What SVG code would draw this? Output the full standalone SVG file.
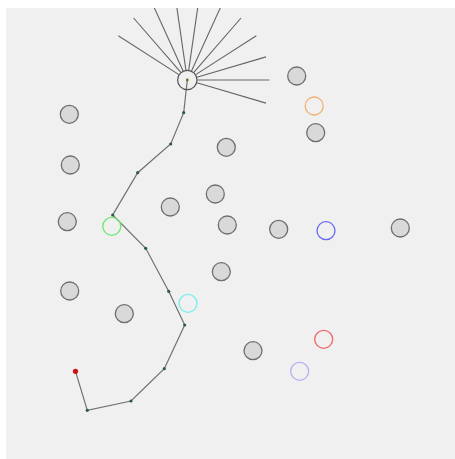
<svg xmlns="http://www.w3.org/2000/svg" width="455" height="459" viewBox="0 0 455 459">
  <style>
    .node { fill: #d9d9d9; stroke: #6e6e6e; stroke-width: 1.3; }
    .ring { fill: none; stroke-width: 1.3; }
    .spoke { stroke: #666; stroke-width: 1.1; fill: none; }
    .edge { stroke: #707070; stroke-width: 1.2; fill: none; }
    .vtx { fill: #2d5a50; }
  </style>
  <defs>
    <clipPath id="area"><rect x="6" y="8" width="449" height="451"/></clipPath>
  </defs>
  <rect width="455" height="459" fill="#ffffff"/>
  <rect x="6" y="8" width="449" height="451" fill="#f0f0f0"/>
  <g clip-path="url(#area)">
    <g id="connectors">
      <g id="spokes">
        <line class="spoke" x1="196.9" y1="82.8" x2="266.0" y2="103.1"/>
        <line class="spoke" x1="197.3" y1="80" x2="269.3" y2="80"/>
        <line class="spoke" x1="196.9" y1="77.2" x2="266.0" y2="56.9"/>
        <line class="spoke" x1="195.7" y1="74.6" x2="256.3" y2="35.7"/>
        <line class="spoke" x1="193.8" y1="72.4" x2="241.0" y2="18.0"/>
        <line class="spoke" x1="191.5" y1="70.9" x2="221.4" y2="5.4"/>
        <line class="spoke" x1="188.7" y1="70.1" x2="199.0" y2="-1.2"/>
        <line class="spoke" x1="185.9" y1="70.1" x2="175.6" y2="-1.2"/>
        <line class="spoke" x1="183.1" y1="70.9" x2="153.2" y2="5.4"/>
        <line class="spoke" x1="180.8" y1="72.4" x2="133.6" y2="18.0"/>
        <line class="spoke" x1="178.9" y1="74.6" x2="118.3" y2="35.7"/>
      </g>
      <polyline id="route" class="edge" points="187.3,80 183.7,112.7 170.7,144 137.7,172.7 112.7,215 145.7,248.3 168.7,291.3 184.7,325 164.3,368.7 131,401 87.3,410.3 75.5,371.3"/>
      <g id="route-vertices">
        <circle class="vtx" cx="183.7" cy="112.7" r="1.6"/>
        <circle class="vtx" cx="170.7" cy="144" r="1.6"/>
        <circle class="vtx" cx="137.7" cy="172.7" r="1.6"/>
        <circle class="vtx" cx="112.7" cy="215" r="1.6"/>
        <circle class="vtx" cx="145.7" cy="248.3" r="1.6"/>
        <circle class="vtx" cx="168.7" cy="291.3" r="1.6"/>
        <circle class="vtx" cx="184.7" cy="325" r="1.6"/>
        <circle class="vtx" cx="164.3" cy="368.7" r="1.6"/>
        <circle class="vtx" cx="131" cy="401" r="1.6"/>
        <circle class="vtx" cx="87.3" cy="410.3" r="1.6"/>
      </g>
    </g>
    <g id="hub">
      <circle cx="187.3" cy="80" r="9.7" fill="none" stroke="#555" stroke-width="1.2"/>
      <circle cx="187.3" cy="80" r="1.4" fill="#6b6b2a"/>
    </g>
    <g id="end"><circle cx="75.5" cy="371.3" r="2.6" fill="#cc1111"/></g>
    <g id="n1"><circle class="node" cx="296.7" cy="76" r="9"/></g>
    <g id="n2"><circle class="node" cx="315.7" cy="132.7" r="9"/></g>
    <g id="n3"><circle class="node" cx="69.3" cy="114.3" r="9"/></g>
    <g id="n4"><circle class="node" cx="226.3" cy="147.3" r="9"/></g>
    <g id="n5"><circle class="node" cx="70.3" cy="165" r="9"/></g>
    <g id="n6"><circle class="node" cx="215.3" cy="194" r="9"/></g>
    <g id="n7"><circle class="node" cx="170.3" cy="207" r="9"/></g>
    <g id="n8"><circle class="node" cx="67.3" cy="221.7" r="9"/></g>
    <g id="n9"><circle class="node" cx="227.3" cy="225" r="9"/></g>
    <g id="n10"><circle class="node" cx="278.7" cy="229.3" r="9"/></g>
    <g id="n11"><circle class="node" cx="400.3" cy="228" r="9"/></g>
    <g id="n12"><circle class="node" cx="221.3" cy="271.7" r="9"/></g>
    <g id="n13"><circle class="node" cx="69.7" cy="291" r="9"/></g>
    <g id="n14"><circle class="node" cx="124.3" cy="313.7" r="9"/></g>
    <g id="n15"><circle class="node" cx="253" cy="350.7" r="9"/></g>
    <g id="orange"><circle class="ring" cx="314.2" cy="106" r="9" stroke="#f2b070"/></g>
    <g id="green"><circle class="ring" cx="111.8" cy="226.3" r="9" stroke="#70e870"/></g>
    <g id="blue"><circle class="ring" cx="326" cy="230.7" r="9" stroke="#6a6af0"/></g>
    <g id="cyan"><circle class="ring" cx="188" cy="303.3" r="9" stroke="#78eeee"/></g>
    <g id="red"><circle class="ring" cx="323.7" cy="339.3" r="9" stroke="#ee6a6a"/></g>
    <g id="lavender"><circle class="ring" cx="299.7" cy="371.3" r="9" stroke="#bcaef0"/></g>
  </g>
</svg>
